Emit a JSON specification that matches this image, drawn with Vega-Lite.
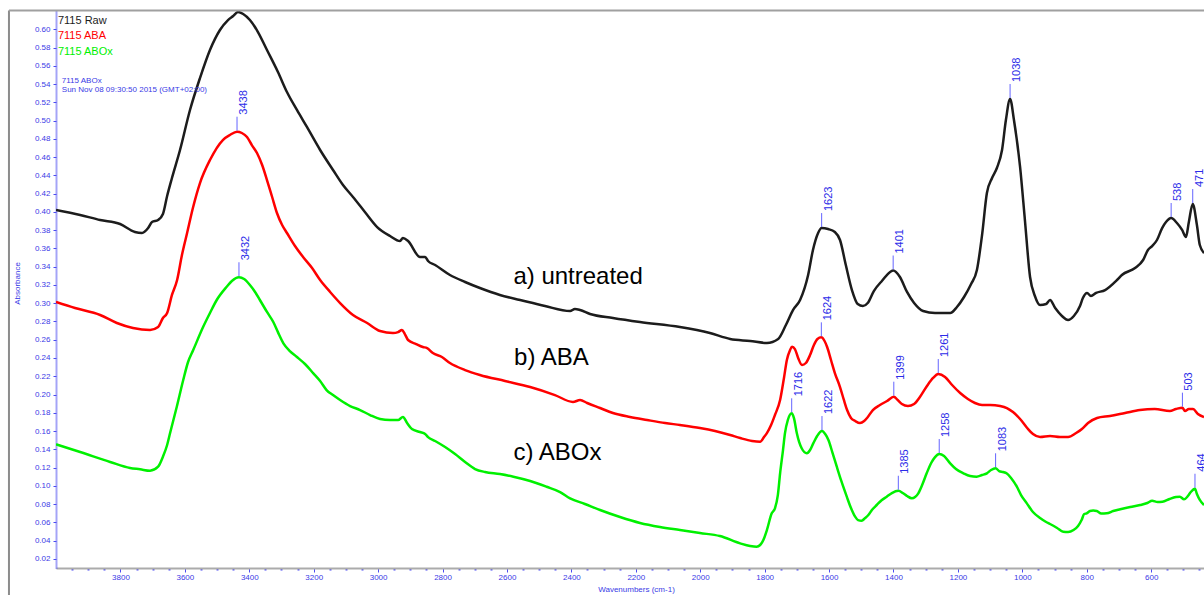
{
  "$schema": "https://vega.github.io/schema/vega-lite/v6.json",
  "width": 1148,
  "height": 557,
  "autosize": {"type": "none"},
  "padding": {"left": 56, "top": 11, "right": 0, "bottom": 27},
  "background": "white",
  "config": {
    "view": {"stroke": null},
    "font": "Liberation Sans",
    "axis": {
      "grid": false,
      "labelFont": "Liberation Sans", "labelFontSize": 8, "labelColor": "#3a3ae6",
      "labelOverlap": false, "labelFlush": false, "labelBound": false,
      "titleFont": "Liberation Sans", "titleFontSize": 8, "titleFontWeight": "normal", "titleColor": "#3a3ae6",
      "tickColor": "#4b4bf0"
    },
    "axisX": {
      "labelPadding": 1,
      "domainColor": "#ababab", "domainWidth": 2
    },
    "axisY": {
      "labelPadding": 3, "tickSize": 3,
      "domainColor": "#4b4bf0", "domainDash": [1, 1], "domainWidth": 2
    }
  },
  "datasets": {
    "spectra": [
      {"series": "7115 Raw", "wn": 4000, "abs": 0.4021}, {"series": "7115 Raw", "wn": 3925, "abs": 0.3966}, {"series": "7115 Raw", "wn": 3863, "abs": 0.3911}, {"series": "7115 Raw", "wn": 3801, "abs": 0.3867}, {"series": "7115 Raw", "wn": 3755, "abs": 0.378}, {"series": "7115 Raw", "wn": 3733, "abs": 0.3769}, {"series": "7115 Raw", "wn": 3714, "abs": 0.3823}, {"series": "7115 Raw", "wn": 3702, "abs": 0.3889}, {"series": "7115 Raw", "wn": 3683, "abs": 0.3911}, {"series": "7115 Raw", "wn": 3668, "abs": 0.3977}, {"series": "7115 Raw", "wn": 3655, "abs": 0.4174}, {"series": "7115 Raw", "wn": 3640, "abs": 0.4371}, {"series": "7115 Raw", "wn": 3615, "abs": 0.4678}, {"series": "7115 Raw", "wn": 3584, "abs": 0.5116}, {"series": "7115 Raw", "wn": 3553, "abs": 0.5466}, {"series": "7115 Raw", "wn": 3522, "abs": 0.5773}, {"series": "7115 Raw", "wn": 3491, "abs": 0.5992}, {"series": "7115 Raw", "wn": 3466, "abs": 0.6101}, {"series": "7115 Raw", "wn": 3450, "abs": 0.6145}, {"series": "7115 Raw", "wn": 3435, "abs": 0.6189}, {"series": "7115 Raw", "wn": 3419, "abs": 0.6167}, {"series": "7115 Raw", "wn": 3398, "abs": 0.6101}, {"series": "7115 Raw", "wn": 3373, "abs": 0.597}, {"series": "7115 Raw", "wn": 3345, "abs": 0.5773}, {"series": "7115 Raw", "wn": 3311, "abs": 0.5532}, {"series": "7115 Raw", "wn": 3283, "abs": 0.5313}, {"series": "7115 Raw", "wn": 3252, "abs": 0.5116}, {"series": "7115 Raw", "wn": 3221, "abs": 0.493}, {"series": "7115 Raw", "wn": 3180, "abs": 0.4678}, {"series": "7115 Raw", "wn": 3140, "abs": 0.4459}, {"series": "7115 Raw", "wn": 3109, "abs": 0.4294}, {"series": "7115 Raw", "wn": 3078, "abs": 0.4163}, {"series": "7115 Raw", "wn": 3041, "abs": 0.3999}, {"series": "7115 Raw", "wn": 3003, "abs": 0.3834}, {"series": "7115 Raw", "wn": 2963, "abs": 0.3736}, {"series": "7115 Raw", "wn": 2932, "abs": 0.3681}, {"series": "7115 Raw", "wn": 2923, "abs": 0.3714}, {"series": "7115 Raw", "wn": 2907, "abs": 0.3681}, {"series": "7115 Raw", "wn": 2870, "abs": 0.3506}, {"series": "7115 Raw", "wn": 2854, "abs": 0.3506}, {"series": "7115 Raw", "wn": 2845, "abs": 0.3462}, {"series": "7115 Raw", "wn": 2823, "abs": 0.3418}, {"series": "7115 Raw", "wn": 2777, "abs": 0.3309}, {"series": "7115 Raw", "wn": 2730, "abs": 0.3232}, {"series": "7115 Raw", "wn": 2684, "abs": 0.3166}, {"series": "7115 Raw", "wn": 2622, "abs": 0.309}, {"series": "7115 Raw", "wn": 2559, "abs": 0.3035}, {"series": "7115 Raw", "wn": 2482, "abs": 0.2969}, {"series": "7115 Raw", "wn": 2404, "abs": 0.2914}, {"series": "7115 Raw", "wn": 2389, "abs": 0.2936}, {"series": "7115 Raw", "wn": 2373, "abs": 0.2925}, {"series": "7115 Raw", "wn": 2342, "abs": 0.2882}, {"series": "7115 Raw", "wn": 2271, "abs": 0.2838}, {"series": "7115 Raw", "wn": 2187, "abs": 0.2794}, {"series": "7115 Raw", "wn": 2063, "abs": 0.2739}, {"series": "7115 Raw", "wn": 1970, "abs": 0.2673}, {"series": "7115 Raw", "wn": 1907, "abs": 0.2608}, {"series": "7115 Raw", "wn": 1845, "abs": 0.2586}, {"series": "7115 Raw", "wn": 1793, "abs": 0.2564}, {"series": "7115 Raw", "wn": 1758, "abs": 0.2608}, {"series": "7115 Raw", "wn": 1734, "abs": 0.2761}, {"series": "7115 Raw", "wn": 1712, "abs": 0.2925}, {"series": "7115 Raw", "wn": 1690, "abs": 0.3035}, {"series": "7115 Raw", "wn": 1665, "abs": 0.3309}, {"series": "7115 Raw", "wn": 1650, "abs": 0.3583}, {"series": "7115 Raw", "wn": 1634, "abs": 0.3769}, {"series": "7115 Raw", "wn": 1623, "abs": 0.3823}, {"series": "7115 Raw", "wn": 1603, "abs": 0.3812}, {"series": "7115 Raw", "wn": 1582, "abs": 0.378}, {"series": "7115 Raw", "wn": 1566, "abs": 0.3692}, {"series": "7115 Raw", "wn": 1548, "abs": 0.3418}, {"series": "7115 Raw", "wn": 1529, "abs": 0.3144}, {"series": "7115 Raw", "wn": 1511, "abs": 0.2991}, {"series": "7115 Raw", "wn": 1495, "abs": 0.2969}, {"series": "7115 Raw", "wn": 1480, "abs": 0.3002}, {"series": "7115 Raw", "wn": 1461, "abs": 0.3133}, {"series": "7115 Raw", "wn": 1436, "abs": 0.3243}, {"series": "7115 Raw", "wn": 1401, "abs": 0.3358}, {"series": "7115 Raw", "wn": 1380, "abs": 0.3287}, {"series": "7115 Raw", "wn": 1358, "abs": 0.3123}, {"series": "7115 Raw", "wn": 1336, "abs": 0.3002}, {"series": "7115 Raw", "wn": 1308, "abs": 0.2914}, {"series": "7115 Raw", "wn": 1271, "abs": 0.2892}, {"series": "7115 Raw", "wn": 1224, "abs": 0.2892}, {"series": "7115 Raw", "wn": 1203, "abs": 0.2958}, {"series": "7115 Raw", "wn": 1181, "abs": 0.3068}, {"series": "7115 Raw", "wn": 1159, "abs": 0.321}, {"series": "7115 Raw", "wn": 1141, "abs": 0.3363}, {"series": "7115 Raw", "wn": 1125, "abs": 0.3747}, {"series": "7115 Raw", "wn": 1110, "abs": 0.4207}, {"series": "7115 Raw", "wn": 1094, "abs": 0.4371}, {"series": "7115 Raw", "wn": 1079, "abs": 0.4481}, {"series": "7115 Raw", "wn": 1063, "abs": 0.4678}, {"series": "7115 Raw", "wn": 1051, "abs": 0.5006}, {"series": "7115 Raw", "wn": 1038, "abs": 0.5236}, {"series": "7115 Raw", "wn": 1026, "abs": 0.5006}, {"series": "7115 Raw", "wn": 1007, "abs": 0.4492}, {"series": "7115 Raw", "wn": 992, "abs": 0.3911}, {"series": "7115 Raw", "wn": 976, "abs": 0.3287}, {"series": "7115 Raw", "wn": 961, "abs": 0.3079}, {"series": "7115 Raw", "wn": 945, "abs": 0.298}, {"series": "7115 Raw", "wn": 926, "abs": 0.2991}, {"series": "7115 Raw", "wn": 914, "abs": 0.3035}, {"series": "7115 Raw", "wn": 898, "abs": 0.2947}, {"series": "7115 Raw", "wn": 877, "abs": 0.286}, {"series": "7115 Raw", "wn": 858, "abs": 0.2816}, {"series": "7115 Raw", "wn": 840, "abs": 0.286}, {"series": "7115 Raw", "wn": 821, "abs": 0.2969}, {"series": "7115 Raw", "wn": 812, "abs": 0.3057}, {"series": "7115 Raw", "wn": 799, "abs": 0.3112}, {"series": "7115 Raw", "wn": 787, "abs": 0.3079}, {"series": "7115 Raw", "wn": 771, "abs": 0.3112}, {"series": "7115 Raw", "wn": 743, "abs": 0.3144}, {"series": "7115 Raw", "wn": 706, "abs": 0.3254}, {"series": "7115 Raw", "wn": 691, "abs": 0.3309}, {"series": "7115 Raw", "wn": 650, "abs": 0.3385}, {"series": "7115 Raw", "wn": 625, "abs": 0.3473}, {"series": "7115 Raw", "wn": 610, "abs": 0.3583}, {"series": "7115 Raw", "wn": 597, "abs": 0.3626}, {"series": "7115 Raw", "wn": 582, "abs": 0.3692}, {"series": "7115 Raw", "wn": 566, "abs": 0.3823}, {"series": "7115 Raw", "wn": 554, "abs": 0.3889}, {"series": "7115 Raw", "wn": 538, "abs": 0.3933}, {"series": "7115 Raw", "wn": 520, "abs": 0.3878}, {"series": "7115 Raw", "wn": 504, "abs": 0.3802}, {"series": "7115 Raw", "wn": 492, "abs": 0.3725}, {"series": "7115 Raw", "wn": 483, "abs": 0.3889}, {"series": "7115 Raw", "wn": 471, "abs": 0.4086}, {"series": "7115 Raw", "wn": 458, "abs": 0.3856}, {"series": "7115 Raw", "wn": 449, "abs": 0.3637}, {"series": "7115 Raw", "wn": 436, "abs": 0.355},

      {"series": "7115 ABA", "wn": 4000, "abs": 0.3013}, {"series": "7115 ABA", "wn": 3941, "abs": 0.2947}, {"series": "7115 ABA", "wn": 3863, "abs": 0.2871}, {"series": "7115 ABA", "wn": 3811, "abs": 0.2783}, {"series": "7115 ABA", "wn": 3761, "abs": 0.2728}, {"series": "7115 ABA", "wn": 3708, "abs": 0.2706}, {"series": "7115 ABA", "wn": 3683, "abs": 0.2739}, {"series": "7115 ABA", "wn": 3668, "abs": 0.2838}, {"series": "7115 ABA", "wn": 3655, "abs": 0.2892}, {"series": "7115 ABA", "wn": 3640, "abs": 0.309}, {"series": "7115 ABA", "wn": 3624, "abs": 0.3254}, {"series": "7115 ABA", "wn": 3609, "abs": 0.3528}, {"series": "7115 ABA", "wn": 3593, "abs": 0.3769}, {"series": "7115 ABA", "wn": 3575, "abs": 0.4043}, {"series": "7115 ABA", "wn": 3553, "abs": 0.4316}, {"series": "7115 ABA", "wn": 3522, "abs": 0.4568}, {"series": "7115 ABA", "wn": 3482, "abs": 0.4787}, {"series": "7115 ABA", "wn": 3460, "abs": 0.4842}, {"series": "7115 ABA", "wn": 3438, "abs": 0.4878}, {"series": "7115 ABA", "wn": 3423, "abs": 0.4864}, {"series": "7115 ABA", "wn": 3407, "abs": 0.482}, {"series": "7115 ABA", "wn": 3392, "abs": 0.4732}, {"series": "7115 ABA", "wn": 3376, "abs": 0.4645}, {"series": "7115 ABA", "wn": 3360, "abs": 0.4513}, {"series": "7115 ABA", "wn": 3345, "abs": 0.4349}, {"series": "7115 ABA", "wn": 3329, "abs": 0.4163}, {"series": "7115 ABA", "wn": 3314, "abs": 0.3988}, {"series": "7115 ABA", "wn": 3298, "abs": 0.3856}, {"series": "7115 ABA", "wn": 3283, "abs": 0.3769}, {"series": "7115 ABA", "wn": 3258, "abs": 0.3626}, {"series": "7115 ABA", "wn": 3233, "abs": 0.3506}, {"series": "7115 ABA", "wn": 3205, "abs": 0.3385}, {"series": "7115 ABA", "wn": 3180, "abs": 0.3254}, {"series": "7115 ABA", "wn": 3149, "abs": 0.3123}, {"series": "7115 ABA", "wn": 3118, "abs": 0.3002}, {"series": "7115 ABA", "wn": 3078, "abs": 0.2871}, {"series": "7115 ABA", "wn": 3034, "abs": 0.2783}, {"series": "7115 ABA", "wn": 2994, "abs": 0.2695}, {"series": "7115 ABA", "wn": 2954, "abs": 0.2673}, {"series": "7115 ABA", "wn": 2938, "abs": 0.2684}, {"series": "7115 ABA", "wn": 2926, "abs": 0.2706}, {"series": "7115 ABA", "wn": 2917, "abs": 0.2662}, {"series": "7115 ABA", "wn": 2907, "abs": 0.2597}, {"series": "7115 ABA", "wn": 2882, "abs": 0.2553}, {"series": "7115 ABA", "wn": 2861, "abs": 0.252}, {"series": "7115 ABA", "wn": 2848, "abs": 0.2509}, {"series": "7115 ABA", "wn": 2830, "abs": 0.2454}, {"series": "7115 ABA", "wn": 2802, "abs": 0.2411}, {"series": "7115 ABA", "wn": 2777, "abs": 0.2345}, {"series": "7115 ABA", "wn": 2730, "abs": 0.2268}, {"series": "7115 ABA", "wn": 2684, "abs": 0.2214}, {"series": "7115 ABA", "wn": 2606, "abs": 0.2148}, {"series": "7115 ABA", "wn": 2528, "abs": 0.2082}, {"series": "7115 ABA", "wn": 2451, "abs": 0.1994}, {"series": "7115 ABA", "wn": 2395, "abs": 0.1918}, {"series": "7115 ABA", "wn": 2373, "abs": 0.194}, {"series": "7115 ABA", "wn": 2351, "abs": 0.1907}, {"series": "7115 ABA", "wn": 2311, "abs": 0.1852}, {"series": "7115 ABA", "wn": 2271, "abs": 0.1797}, {"series": "7115 ABA", "wn": 2218, "abs": 0.1754}, {"series": "7115 ABA", "wn": 2165, "abs": 0.1721}, {"series": "7115 ABA", "wn": 2109, "abs": 0.1688}, {"series": "7115 ABA", "wn": 2063, "abs": 0.1666}, {"series": "7115 ABA", "wn": 2001, "abs": 0.1633}, {"series": "7115 ABA", "wn": 1954, "abs": 0.16}, {"series": "7115 ABA", "wn": 1907, "abs": 0.1556}, {"series": "7115 ABA", "wn": 1876, "abs": 0.1523}, {"series": "7115 ABA", "wn": 1839, "abs": 0.1491}, {"series": "7115 ABA", "wn": 1814, "abs": 0.1483}, {"series": "7115 ABA", "wn": 1802, "abs": 0.1534}, {"series": "7115 ABA", "wn": 1793, "abs": 0.1578}, {"series": "7115 ABA", "wn": 1780, "abs": 0.1666}, {"series": "7115 ABA", "wn": 1768, "abs": 0.1775}, {"series": "7115 ABA", "wn": 1752, "abs": 0.194}, {"series": "7115 ABA", "wn": 1740, "abs": 0.2181}, {"series": "7115 ABA", "wn": 1731, "abs": 0.2378}, {"series": "7115 ABA", "wn": 1721, "abs": 0.2487}, {"series": "7115 ABA", "wn": 1715, "abs": 0.2524}, {"series": "7115 ABA", "wn": 1706, "abs": 0.2498}, {"series": "7115 ABA", "wn": 1696, "abs": 0.24}, {"series": "7115 ABA", "wn": 1684, "abs": 0.2323}, {"series": "7115 ABA", "wn": 1672, "abs": 0.2345}, {"series": "7115 ABA", "wn": 1659, "abs": 0.2432}, {"series": "7115 ABA", "wn": 1647, "abs": 0.2542}, {"series": "7115 ABA", "wn": 1636, "abs": 0.2608}, {"series": "7115 ABA", "wn": 1624, "abs": 0.2626}, {"series": "7115 ABA", "wn": 1614, "abs": 0.2586}, {"series": "7115 ABA", "wn": 1606, "abs": 0.252}, {"series": "7115 ABA", "wn": 1594, "abs": 0.2378}, {"series": "7115 ABA", "wn": 1582, "abs": 0.2235}, {"series": "7115 ABA", "wn": 1566, "abs": 0.2082}, {"series": "7115 ABA", "wn": 1554, "abs": 0.194}, {"series": "7115 ABA", "wn": 1544, "abs": 0.183}, {"series": "7115 ABA", "wn": 1532, "abs": 0.1743}, {"series": "7115 ABA", "wn": 1519, "abs": 0.171}, {"series": "7115 ABA", "wn": 1504, "abs": 0.1688}, {"series": "7115 ABA", "wn": 1491, "abs": 0.171}, {"series": "7115 ABA", "wn": 1482, "abs": 0.1743}, {"series": "7115 ABA", "wn": 1464, "abs": 0.183}, {"series": "7115 ABA", "wn": 1442, "abs": 0.1885}, {"series": "7115 ABA", "wn": 1420, "abs": 0.1929}, {"series": "7115 ABA", "wn": 1399, "abs": 0.1976}, {"series": "7115 ABA", "wn": 1387, "abs": 0.194}, {"series": "7115 ABA", "wn": 1374, "abs": 0.1896}, {"series": "7115 ABA", "wn": 1355, "abs": 0.1874}, {"series": "7115 ABA", "wn": 1336, "abs": 0.1896}, {"series": "7115 ABA", "wn": 1318, "abs": 0.1973}, {"series": "7115 ABA", "wn": 1296, "abs": 0.2093}, {"series": "7115 ABA", "wn": 1277, "abs": 0.2181}, {"series": "7115 ABA", "wn": 1261, "abs": 0.2224}, {"series": "7115 ABA", "wn": 1240, "abs": 0.2192}, {"series": "7115 ABA", "wn": 1218, "abs": 0.2104}, {"series": "7115 ABA", "wn": 1193, "abs": 0.2016}, {"series": "7115 ABA", "wn": 1169, "abs": 0.1951}, {"series": "7115 ABA", "wn": 1147, "abs": 0.1907}, {"series": "7115 ABA", "wn": 1125, "abs": 0.1885}, {"series": "7115 ABA", "wn": 1100, "abs": 0.1885}, {"series": "7115 ABA", "wn": 1069, "abs": 0.1874}, {"series": "7115 ABA", "wn": 1048, "abs": 0.1852}, {"series": "7115 ABA", "wn": 1029, "abs": 0.1808}, {"series": "7115 ABA", "wn": 1007, "abs": 0.1732}, {"series": "7115 ABA", "wn": 985, "abs": 0.1633}, {"series": "7115 ABA", "wn": 967, "abs": 0.1567}, {"series": "7115 ABA", "wn": 945, "abs": 0.1534}, {"series": "7115 ABA", "wn": 914, "abs": 0.1545}, {"series": "7115 ABA", "wn": 883, "abs": 0.1534}, {"series": "7115 ABA", "wn": 858, "abs": 0.1534}, {"series": "7115 ABA", "wn": 833, "abs": 0.1578}, {"series": "7115 ABA", "wn": 815, "abs": 0.1622}, {"series": "7115 ABA", "wn": 796, "abs": 0.1688}, {"series": "7115 ABA", "wn": 768, "abs": 0.1743}, {"series": "7115 ABA", "wn": 728, "abs": 0.1765}, {"series": "7115 ABA", "wn": 681, "abs": 0.1798}, {"series": "7115 ABA", "wn": 635, "abs": 0.183}, {"series": "7115 ABA", "wn": 589, "abs": 0.1841}, {"series": "7115 ABA", "wn": 542, "abs": 0.1819}, {"series": "7115 ABA", "wn": 523, "abs": 0.1841}, {"series": "7115 ABA", "wn": 503, "abs": 0.1856}, {"series": "7115 ABA", "wn": 495, "abs": 0.1819}, {"series": "7115 ABA", "wn": 483, "abs": 0.1841}, {"series": "7115 ABA", "wn": 470, "abs": 0.1841}, {"series": "7115 ABA", "wn": 455, "abs": 0.1786}, {"series": "7115 ABA", "wn": 436, "abs": 0.1754},

      {"series": "7115 ABOx", "wn": 4000, "abs": 0.1454}, {"series": "7115 ABOx", "wn": 3925, "abs": 0.137}, {"series": "7115 ABOx", "wn": 3832, "abs": 0.1261}, {"series": "7115 ABOx", "wn": 3770, "abs": 0.1195}, {"series": "7115 ABOx", "wn": 3739, "abs": 0.1181}, {"series": "7115 ABOx", "wn": 3708, "abs": 0.1165}, {"series": "7115 ABOx", "wn": 3683, "abs": 0.1209}, {"series": "7115 ABOx", "wn": 3668, "abs": 0.1319}, {"series": "7115 ABOx", "wn": 3655, "abs": 0.1447}, {"series": "7115 ABOx", "wn": 3646, "abs": 0.1575}, {"series": "7115 ABOx", "wn": 3625, "abs": 0.1866}, {"series": "7115 ABOx", "wn": 3605, "abs": 0.2159}, {"series": "7115 ABOx", "wn": 3590, "abs": 0.2356}, {"series": "7115 ABOx", "wn": 3574, "abs": 0.2487}, {"series": "7115 ABOx", "wn": 3543, "abs": 0.2742}, {"series": "7115 ABOx", "wn": 3522, "abs": 0.2893}, {"series": "7115 ABOx", "wn": 3501, "abs": 0.3035}, {"series": "7115 ABOx", "wn": 3470, "abs": 0.318}, {"series": "7115 ABOx", "wn": 3454, "abs": 0.3243}, {"series": "7115 ABOx", "wn": 3432, "abs": 0.3284}, {"series": "7115 ABOx", "wn": 3416, "abs": 0.3265}, {"series": "7115 ABOx", "wn": 3398, "abs": 0.3199}, {"series": "7115 ABOx", "wn": 3382, "abs": 0.3123}, {"series": "7115 ABOx", "wn": 3367, "abs": 0.3035}, {"series": "7115 ABOx", "wn": 3345, "abs": 0.2904}, {"series": "7115 ABOx", "wn": 3325, "abs": 0.2791}, {"series": "7115 ABOx", "wn": 3311, "abs": 0.2683}, {"series": "7115 ABOx", "wn": 3294, "abs": 0.2561}, {"series": "7115 ABOx", "wn": 3274, "abs": 0.2476}, {"series": "7115 ABOx", "wn": 3253, "abs": 0.2414}, {"series": "7115 ABOx", "wn": 3227, "abs": 0.2334}, {"series": "7115 ABOx", "wn": 3201, "abs": 0.2232}, {"series": "7115 ABOx", "wn": 3180, "abs": 0.2148}, {"series": "7115 ABOx", "wn": 3160, "abs": 0.2049}, {"series": "7115 ABOx", "wn": 3140, "abs": 0.1994}, {"series": "7115 ABOx", "wn": 3118, "abs": 0.194}, {"series": "7115 ABOx", "wn": 3087, "abs": 0.1874}, {"series": "7115 ABOx", "wn": 3056, "abs": 0.183}, {"series": "7115 ABOx", "wn": 3025, "abs": 0.1775}, {"series": "7115 ABOx", "wn": 2994, "abs": 0.1732}, {"series": "7115 ABOx", "wn": 2963, "abs": 0.1721}, {"series": "7115 ABOx", "wn": 2938, "abs": 0.1721}, {"series": "7115 ABOx", "wn": 2923, "abs": 0.1754}, {"series": "7115 ABOx", "wn": 2910, "abs": 0.1688}, {"series": "7115 ABOx", "wn": 2895, "abs": 0.1622}, {"series": "7115 ABOx", "wn": 2870, "abs": 0.1589}, {"series": "7115 ABOx", "wn": 2854, "abs": 0.1567}, {"series": "7115 ABOx", "wn": 2845, "abs": 0.1534}, {"series": "7115 ABOx", "wn": 2823, "abs": 0.1491}, {"series": "7115 ABOx", "wn": 2792, "abs": 0.1425}, {"series": "7115 ABOx", "wn": 2761, "abs": 0.1348}, {"series": "7115 ABOx", "wn": 2730, "abs": 0.1261}, {"series": "7115 ABOx", "wn": 2699, "abs": 0.1184}, {"series": "7115 ABOx", "wn": 2668, "abs": 0.1151}, {"series": "7115 ABOx", "wn": 2622, "abs": 0.1129}, {"series": "7115 ABOx", "wn": 2580, "abs": 0.11}, {"series": "7115 ABOx", "wn": 2528, "abs": 0.1053}, {"series": "7115 ABOx", "wn": 2477, "abs": 0.099}, {"series": "7115 ABOx", "wn": 2435, "abs": 0.0932}, {"series": "7115 ABOx", "wn": 2404, "abs": 0.0863}, {"series": "7115 ABOx", "wn": 2358, "abs": 0.0801}, {"series": "7115 ABOx", "wn": 2311, "abs": 0.0735}, {"series": "7115 ABOx", "wn": 2249, "abs": 0.0658}, {"series": "7115 ABOx", "wn": 2187, "abs": 0.0593}, {"series": "7115 ABOx", "wn": 2125, "abs": 0.0549}, {"series": "7115 ABOx", "wn": 2063, "abs": 0.0516}, {"series": "7115 ABOx", "wn": 2001, "abs": 0.0483}, {"series": "7115 ABOx", "wn": 1939, "abs": 0.045}, {"series": "7115 ABOx", "wn": 1876, "abs": 0.037}, {"series": "7115 ABOx", "wn": 1845, "abs": 0.0341}, {"series": "7115 ABOx", "wn": 1825, "abs": 0.0333}, {"series": "7115 ABOx", "wn": 1814, "abs": 0.0352}, {"series": "7115 ABOx", "wn": 1804, "abs": 0.0407}, {"series": "7115 ABOx", "wn": 1793, "abs": 0.0516}, {"series": "7115 ABOx", "wn": 1778, "abs": 0.0699}, {"series": "7115 ABOx", "wn": 1768, "abs": 0.0754}, {"series": "7115 ABOx", "wn": 1759, "abs": 0.0899}, {"series": "7115 ABOx", "wn": 1752, "abs": 0.1137}, {"series": "7115 ABOx", "wn": 1743, "abs": 0.1392}, {"series": "7115 ABOx", "wn": 1737, "abs": 0.1575}, {"series": "7115 ABOx", "wn": 1728, "abs": 0.1721}, {"series": "7115 ABOx", "wn": 1716, "abs": 0.1794}, {"series": "7115 ABOx", "wn": 1709, "abs": 0.1742}, {"series": "7115 ABOx", "wn": 1700, "abs": 0.1575}, {"series": "7115 ABOx", "wn": 1693, "abs": 0.148}, {"series": "7115 ABOx", "wn": 1685, "abs": 0.1411}, {"series": "7115 ABOx", "wn": 1669, "abs": 0.1356}, {"series": "7115 ABOx", "wn": 1659, "abs": 0.1392}, {"series": "7115 ABOx", "wn": 1649, "abs": 0.1465}, {"series": "7115 ABOx", "wn": 1637, "abs": 0.1546}, {"series": "7115 ABOx", "wn": 1622, "abs": 0.16}, {"series": "7115 ABOx", "wn": 1612, "abs": 0.1567}, {"series": "7115 ABOx", "wn": 1602, "abs": 0.1502}, {"series": "7115 ABOx", "wn": 1590, "abs": 0.137}, {"series": "7115 ABOx", "wn": 1576, "abs": 0.1209}, {"series": "7115 ABOx", "wn": 1562, "abs": 0.1053}, {"series": "7115 ABOx", "wn": 1545, "abs": 0.0881}, {"series": "7115 ABOx", "wn": 1532, "abs": 0.0757}, {"series": "7115 ABOx", "wn": 1519, "abs": 0.0662}, {"series": "7115 ABOx", "wn": 1510, "abs": 0.0625}, {"series": "7115 ABOx", "wn": 1499, "abs": 0.0618}, {"series": "7115 ABOx", "wn": 1488, "abs": 0.0647}, {"series": "7115 ABOx", "wn": 1478, "abs": 0.068}, {"series": "7115 ABOx", "wn": 1467, "abs": 0.0735}, {"series": "7115 ABOx", "wn": 1452, "abs": 0.079}, {"series": "7115 ABOx", "wn": 1436, "abs": 0.0845}, {"series": "7115 ABOx", "wn": 1421, "abs": 0.0881}, {"series": "7115 ABOx", "wn": 1405, "abs": 0.0921}, {"series": "7115 ABOx", "wn": 1385, "abs": 0.0946}, {"series": "7115 ABOx", "wn": 1370, "abs": 0.0918}, {"series": "7115 ABOx", "wn": 1358, "abs": 0.0888}, {"series": "7115 ABOx", "wn": 1343, "abs": 0.0863}, {"series": "7115 ABOx", "wn": 1333, "abs": 0.0877}, {"series": "7115 ABOx", "wn": 1323, "abs": 0.0918}, {"series": "7115 ABOx", "wn": 1311, "abs": 0.1009}, {"series": "7115 ABOx", "wn": 1297, "abs": 0.1137}, {"series": "7115 ABOx", "wn": 1283, "abs": 0.125}, {"series": "7115 ABOx", "wn": 1271, "abs": 0.1315}, {"series": "7115 ABOx", "wn": 1258, "abs": 0.1348}, {"series": "7115 ABOx", "wn": 1243, "abs": 0.1326}, {"series": "7115 ABOx", "wn": 1224, "abs": 0.1246}, {"series": "7115 ABOx", "wn": 1206, "abs": 0.1184}, {"series": "7115 ABOx", "wn": 1183, "abs": 0.1137}, {"series": "7115 ABOx", "wn": 1162, "abs": 0.1107}, {"series": "7115 ABOx", "wn": 1142, "abs": 0.11}, {"series": "7115 ABOx", "wn": 1125, "abs": 0.1118}, {"series": "7115 ABOx", "wn": 1110, "abs": 0.1137}, {"series": "7115 ABOx", "wn": 1097, "abs": 0.1173}, {"series": "7115 ABOx", "wn": 1083, "abs": 0.1192}, {"series": "7115 ABOx", "wn": 1072, "abs": 0.1162}, {"series": "7115 ABOx", "wn": 1060, "abs": 0.1151}, {"series": "7115 ABOx", "wn": 1049, "abs": 0.1137}, {"series": "7115 ABOx", "wn": 1035, "abs": 0.1085}, {"series": "7115 ABOx", "wn": 1017, "abs": 0.099}, {"series": "7115 ABOx", "wn": 1004, "abs": 0.0899}, {"series": "7115 ABOx", "wn": 986, "abs": 0.0808}, {"series": "7115 ABOx", "wn": 967, "abs": 0.0713}, {"series": "7115 ABOx", "wn": 945, "abs": 0.0647}, {"series": "7115 ABOx", "wn": 926, "abs": 0.0604}, {"series": "7115 ABOx", "wn": 914, "abs": 0.0582}, {"series": "7115 ABOx", "wn": 892, "abs": 0.0538}, {"series": "7115 ABOx", "wn": 873, "abs": 0.0497}, {"series": "7115 ABOx", "wn": 858, "abs": 0.0494}, {"series": "7115 ABOx", "wn": 841, "abs": 0.0516}, {"series": "7115 ABOx", "wn": 827, "abs": 0.056}, {"series": "7115 ABOx", "wn": 816, "abs": 0.0625}, {"series": "7115 ABOx", "wn": 808, "abs": 0.0691}, {"series": "7115 ABOx", "wn": 800, "abs": 0.0699}, {"series": "7115 ABOx", "wn": 790, "abs": 0.0724}, {"series": "7115 ABOx", "wn": 780, "abs": 0.0729}, {"series": "7115 ABOx", "wn": 769, "abs": 0.0724}, {"series": "7115 ABOx", "wn": 755, "abs": 0.0697}, {"series": "7115 ABOx", "wn": 738, "abs": 0.0699}, {"series": "7115 ABOx", "wn": 718, "abs": 0.0724}, {"series": "7115 ABOx", "wn": 696, "abs": 0.0743}, {"series": "7115 ABOx", "wn": 665, "abs": 0.0768}, {"series": "7115 ABOx", "wn": 634, "abs": 0.079}, {"series": "7115 ABOx", "wn": 612, "abs": 0.0812}, {"series": "7115 ABOx", "wn": 597, "abs": 0.0837}, {"series": "7115 ABOx", "wn": 580, "abs": 0.0823}, {"series": "7115 ABOx", "wn": 565, "abs": 0.0826}, {"series": "7115 ABOx", "wn": 543, "abs": 0.0856}, {"series": "7115 ABOx", "wn": 523, "abs": 0.0877}, {"series": "7115 ABOx", "wn": 511, "abs": 0.0881}, {"series": "7115 ABOx", "wn": 498, "abs": 0.0852}, {"series": "7115 ABOx", "wn": 486, "abs": 0.0888}, {"series": "7115 ABOx", "wn": 477, "abs": 0.0932}, {"series": "7115 ABOx", "wn": 464, "abs": 0.0968}, {"series": "7115 ABOx", "wn": 458, "abs": 0.091}, {"series": "7115 ABOx", "wn": 449, "abs": 0.0845}, {"series": "7115 ABOx", "wn": 436, "abs": 0.079}
    ],
    "peaks": [
      {"series": "7115 Raw", "wn": 1623, "abs": 0.3823}, {"series": "7115 Raw", "wn": 1401, "abs": 0.3358}, {"series": "7115 Raw", "wn": 1038, "abs": 0.5236}, {"series": "7115 Raw", "wn": 538, "abs": 0.3933}, {"series": "7115 Raw", "wn": 471, "abs": 0.4086},
      {"series": "7115 ABA", "wn": 3438, "abs": 0.4878}, {"series": "7115 ABA", "wn": 1624, "abs": 0.2626}, {"series": "7115 ABA", "wn": 1399, "abs": 0.1976}, {"series": "7115 ABA", "wn": 1261, "abs": 0.2224}, {"series": "7115 ABA", "wn": 503, "abs": 0.1856},
      {"series": "7115 ABOx", "wn": 3432, "abs": 0.3284}, {"series": "7115 ABOx", "wn": 1716, "abs": 0.1794}, {"series": "7115 ABOx", "wn": 1622, "abs": 0.16}, {"series": "7115 ABOx", "wn": 1385, "abs": 0.0946}, {"series": "7115 ABOx", "wn": 1258, "abs": 0.1348}, {"series": "7115 ABOx", "wn": 1083, "abs": 0.1192}, {"series": "7115 ABOx", "wn": 464, "abs": 0.0968}
    ]
  },
  "layer": [
    {
      "data": {"name": "spectra"},
      "mark": {"type": "line", "strokeWidth": 2.5, "interpolate": "monotone", "clip": true},
      "encoding": {
        "x": {
          "field": "wn", "type": "quantitative",
          "scale": {"domain": [436, 4000], "reverse": true, "nice": false, "zero": false},
          "axis": {
            "title": "Wavenumbers (cm-1)",
            "titleX": 580, "titleY": 21, "titleAlign": "center", "titleBaseline": "middle",
            "tickCount": 500,
            "values": [3950, 3900, 3850, 3800, 3750, 3700, 3650, 3600, 3550, 3500, 3450, 3400, 3350, 3300, 3250, 3200, 3150, 3100, 3050, 3000, 2950, 2900, 2850, 2800, 2750, 2700, 2650, 2600, 2550, 2500, 2450, 2400, 2350, 2300, 2250, 2200, 2150, 2100, 2050, 2000, 1950, 1900, 1850, 1800, 1750, 1700, 1650, 1600, 1550, 1500, 1450, 1400, 1350, 1300, 1250, 1200, 1150, 1100, 1050, 1000, 950, 900, 850, 800, 750, 700, 650, 600, 550, 500, 450],
            "format": "d",
            "labelExpr": "datum.value % 200 === 0 ? datum.label : ''",
            "tickSize": {"condition": {"test": "datum.value % 200 === 0", "value": 4}, "value": 2},
            "tickWidth": {"condition": {"test": "datum.value % 200 === 0", "value": 1}, "value": 2}
          }
        },
        "y": {
          "field": "abs", "type": "quantitative",
          "scale": {"domain": [0.01, 0.62], "nice": false, "zero": false},
          "axis": {
            "title": "Absorbance",
            "titleX": -39, "titleY": 272, "titleAlign": "center", "titleBaseline": "middle", "titleAngle": 270,
            "tickCount": 500,
            "values": [0.02, 0.04, 0.06, 0.08, 0.1, 0.12, 0.14, 0.16, 0.18, 0.2, 0.22, 0.24, 0.26, 0.28, 0.3, 0.32, 0.34, 0.36, 0.38, 0.4, 0.42, 0.44, 0.46, 0.48, 0.5, 0.52, 0.54, 0.56, 0.58, 0.6],
            "format": ".2f"
          }
        },
        "color": {
          "field": "series", "type": "nominal",
          "scale": {"domain": ["7115 Raw", "7115 ABA", "7115 ABOx"], "range": ["#1c1c1c", "#ff0000", "#00f000"]},
          "legend": null
        }
      }
    },
    {
      "data": {"values": [{}]},
      "mark": {"type": "rule", "color": "#8c8c8c", "strokeWidth": 2, "clip": false},
      "encoding": {
        "x": {"datum": 4146, "type": "quantitative"},
        "y": {"datum": 0.6205, "type": "quantitative"},
        "y2": {"datum": -0.0196}
      }
    },
    {
      "data": {"values": [{}]},
      "mark": {"type": "rule", "color": "#a0a0a0", "strokeWidth": 2, "clip": false},
      "encoding": {
        "x": {"datum": 4146, "type": "quantitative"},
        "x2": {"datum": 436},
        "y": {"datum": 0.6205, "type": "quantitative"}
      }
    },
    {
      "data": {"name": "peaks"},
      "mark": {"type": "rule", "color": "#6464ff", "strokeWidth": 1, "yOffset": -1, "y2Offset": -15},
      "encoding": {
        "x": {"field": "wn", "type": "quantitative"},
        "y": {"field": "abs", "type": "quantitative"},
        "y2": {"field": "abs"}
      }
    },
    {
      "data": {"name": "peaks"},
      "mark": {"type": "text", "angle": 270, "align": "left", "baseline": "middle", "dx": 17, "dy": 7, "font": "Liberation Sans", "fontSize": 11, "color": "#2b2be8"},
      "encoding": {
        "x": {"field": "wn", "type": "quantitative"},
        "y": {"field": "abs", "type": "quantitative"},
        "text": {"field": "wn", "type": "quantitative", "format": "d"}
      }
    },
    {
      "data": {"values": [{}]},
      "mark": {"type": "text", "align": "left", "baseline": "middle", "font": "Liberation Sans", "fontSize": 11, "color": "#1c1c1c"},
      "encoding": {
        "x": {"datum": 3994, "type": "quantitative"},
        "y": {"datum": 0.609, "type": "quantitative"},
        "text": {"value": "7115 Raw"}
      }
    },
    {
      "data": {"values": [{}]},
      "mark": {"type": "text", "align": "left", "baseline": "middle", "font": "Liberation Sans", "fontSize": 11, "color": "#ff0000"},
      "encoding": {
        "x": {"datum": 3994, "type": "quantitative"},
        "y": {"datum": 0.5926, "type": "quantitative"},
        "text": {"value": "7115 ABA"}
      }
    },
    {
      "data": {"values": [{}]},
      "mark": {"type": "text", "align": "left", "baseline": "middle", "font": "Liberation Sans", "fontSize": 11, "color": "#00f000"},
      "encoding": {
        "x": {"datum": 3994, "type": "quantitative"},
        "y": {"datum": 0.5751, "type": "quantitative"},
        "text": {"value": "7115 ABOx"}
      }
    },
    {
      "data": {"values": [{}]},
      "mark": {"type": "text", "align": "left", "baseline": "middle", "font": "Liberation Sans", "fontSize": 8, "color": "#3a3ae6"},
      "encoding": {
        "x": {"datum": 3982, "type": "quantitative"},
        "y": {"datum": 0.5433, "type": "quantitative"},
        "text": {"value": "7115 ABOx"}
      }
    },
    {
      "data": {"values": [{}]},
      "mark": {"type": "text", "align": "left", "baseline": "middle", "font": "Liberation Sans", "fontSize": 8, "color": "#3a3ae6"},
      "encoding": {
        "x": {"datum": 3982, "type": "quantitative"},
        "y": {"datum": 0.5335, "type": "quantitative"},
        "text": {"value": "Sun Nov 08 09:30:50 2015 (GMT+02:00)"}
      }
    },
    {
      "data": {"values": [{}]},
      "mark": {"type": "text", "align": "left", "baseline": "middle", "font": "Liberation Sans", "fontSize": 24, "color": "#000000"},
      "encoding": {
        "x": {"datum": 2580, "type": "quantitative"},
        "y": {"datum": 0.329, "type": "quantitative"},
        "text": {"value": "a) untreated"}
      }
    },
    {
      "data": {"values": [{}]},
      "mark": {"type": "text", "align": "left", "baseline": "middle", "font": "Liberation Sans", "fontSize": 24, "color": "#000000"},
      "encoding": {
        "x": {"datum": 2578, "type": "quantitative"},
        "y": {"datum": 0.2396, "type": "quantitative"},
        "text": {"value": "b) ABA"}
      }
    },
    {
      "data": {"values": [{}]},
      "mark": {"type": "text", "align": "left", "baseline": "middle", "font": "Liberation Sans", "fontSize": 24, "color": "#000000"},
      "encoding": {
        "x": {"datum": 2580, "type": "quantitative"},
        "y": {"datum": 0.1356, "type": "quantitative"},
        "text": {"value": "c) ABOx"}
      }
    }
  ]
}
